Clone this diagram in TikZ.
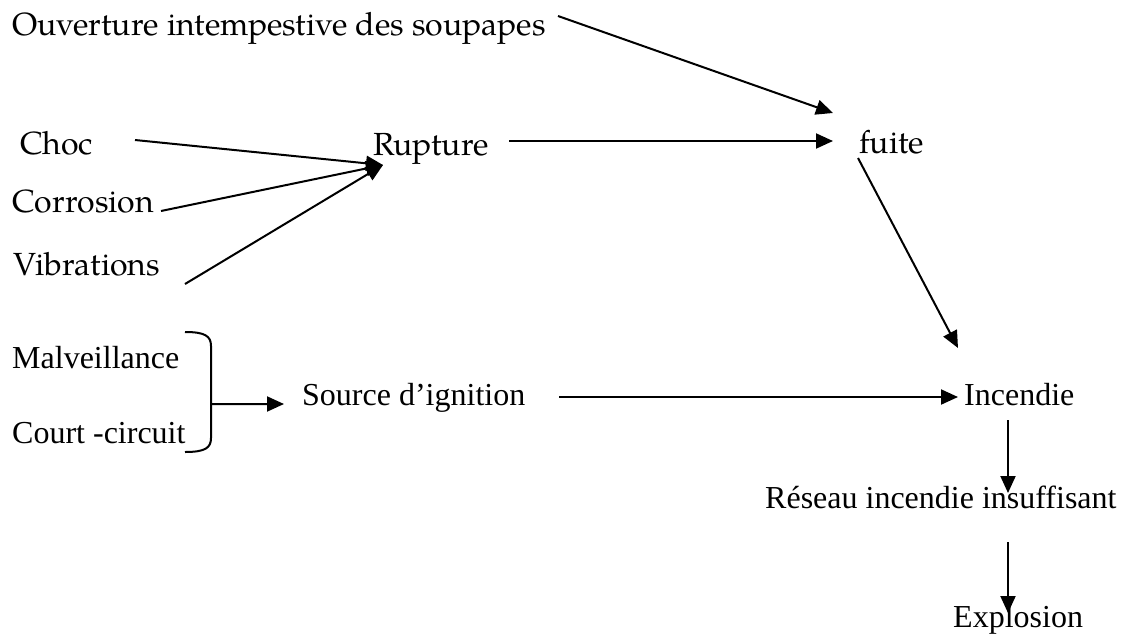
\documentclass[tikz,border=0pt]{standalone}
\usepackage{fontspec}
\usetikzlibrary{arrows.meta,calc}
\newfontfamily\palfont{texgyrepagella}[Extension=.otf,UprightFont=*-regular]
\newfontfamily\timesfont{Liberation Serif}
\begin{document}
\begin{tikzpicture}[x=1pt,y=-1pt,
  pal/.style={anchor=base west,inner sep=0pt,font=\palfont\fontsize{32}{38}\selectfont},
  tms/.style={anchor=base west,inner sep=0pt,font=\timesfont\fontsize{32}{38}\selectfont},
  conn/.style={line width=2pt,-{Triangle[length=17pt,width=15pt]}},
  bracket/.style={line width=2pt}]
\useasboundingbox[fill=white] (0,0) rectangle (1122,635);

% causes and events
\node[pal] (ouv)   at (12,35)  {Ouverture intempestive des soupapes};
\node[pal] (choc)  at (20,154) {Choc};
\node[pal] (corr)  at (12,212) {Corrosion};
\node[pal] (vib)   at (13,275) {Vibrations};
\node[pal] (rup)   at (373,155) {Rupture};
\node[pal] (fuite) at (859,153) {fuite};
\node[tms] (malv)  at (12,368) {Malveillance};
\node[tms] (court) at (12,443) {Court -circuit};
\node[tms] (src)   at (302,405) {Source d’ignition};
\node[tms] (inc)   at (964,405) {Incendie};
\node[tms] (res)   at (765,508) {Réseau incendie insuffisant};
\node[tms] (expl)  at (953,627) {Explosion};

% closing bracket grouping the two ignition causes
\coordinate (btop) at ($(malv.base west)+(173,-36)$);
\coordinate (bbot) at ($(court.base west)+(173,9)$);
\coordinate (bmid) at ($(btop)!0.6!(bbot)$);
\draw[bracket] (btop) .. controls +(20,0) and +(0,-10) .. ($(btop)+(26,14)$)
  -- ($(bbot)+(26,-14)$) .. controls +(0,10) and +(20,0) .. (bbot);

% connectors
\draw[conn] ($(ouv.base west)+(546,-19)$) -- ($(fuite.base west)+(-26,-40)$);
\draw[conn] ($(choc.base west)+(115,-14)$) -- ($(rup.base west)+(10,10)$);
\draw[conn] ($(corr.base west)+(149,-1)$) -- ($(rup.base west)+(10,10)$);
\draw[conn] ($(vib.base west)+(172,9)$) -- ($(rup.base west)+(10,10)$);
\draw[conn] ($(rup.base west)+(136,-14)$) -- ($(fuite.base west)+(-26,-12)$);
\draw[conn] ($(fuite.base west)+(-1,5)$) -- ($(inc.base west)+(-6,-57)$);
\draw[conn] ($(bmid)+(26,0)$) -- ($(src.base west)+(-18,-1)$);
\draw[conn] ($(src.base west)+(257,-8)$) -- ($(inc.base west)+(-6,-8)$);
\draw[conn] ($(inc.base west)+(44,15)$) -- ($(res.base west)+(243,-15)$);
\draw[conn] ($(res.base west)+(243,34)$) -- ($(expl.base west)+(55,-14)$);
\end{tikzpicture}
\end{document}
